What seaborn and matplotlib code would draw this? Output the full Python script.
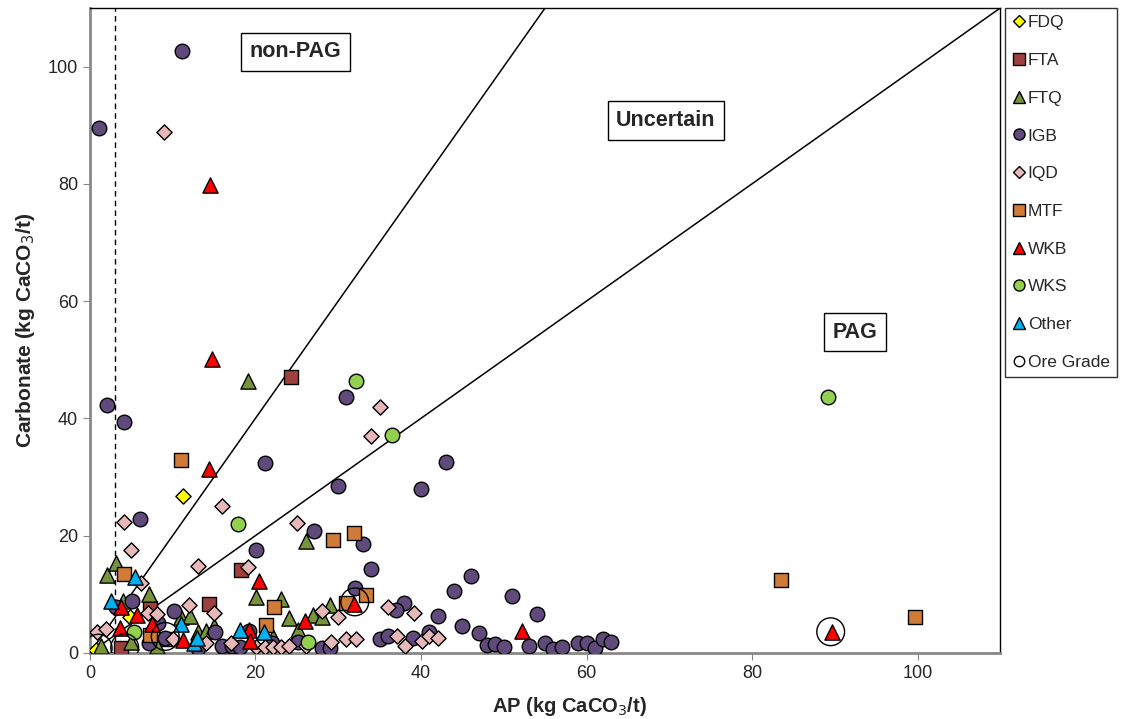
import numpy as np
import pandas as pd
import matplotlib
matplotlib.use('Agg')
import matplotlib.pyplot as plt
from matplotlib.lines import Line2D
import seaborn as sns

# AP (x) and Carbonate (y), kg CaCO3/t
fdq_x = [0.7, 4.8, 11.3]
fdq_y = [0.5, 6.1, 26.8]

fta_x = [3.8, 7.2, 9.2, 14.4, 18.2, 24.3]
fta_y = [0.8, 7.7, 2.3, 8.4, 14.2, 47.0]

ftq_x = [1.3, 2.1, 3.1, 4.0, 5.0, 7.1, 8.1, 11.0, 12.1, 13.0, 14.0, 15.0, 16.1, 19.1,
         20.1, 22.1, 23.1, 24.1, 25.1, 26.1, 27.0, 28.0, 29.0]
ftq_y = [1.1, 13.3, 15.4, 8.8, 1.8, 10.1, 1.1, 6.2, 6.3, 3.5, 3.8, 4.5, 0.3, 46.3,
         9.5, 2.7, 9.1, 6.0, 3.9, 19.1, 6.5, 6.2, 8.2]

igb_x = [1.1, 11.1, 2.1, 4.1, 6.1, 21.1, 30.0, 31.0, 40.0, 43.0, 27.1, 33.0, 20.1, 34.0,
         46.0, 44.0, 51.0, 54.0, 42.0, 38.0, 37.0, 32.0, 45.0, 47.0, 48.0, 49.0, 50.0, 53.0,
         55.0, 56.0, 57.0, 59.0, 60.0, 61.0, 62.0, 63.0, 41.0, 39.0, 35.1, 36.0, 28.0, 29.0,
         25.1, 22.0, 15.1, 16.0, 17.2, 18.1, 13.1, 19.2, 5.1, 3.1, 10.1, 8.2, 7.1, 9.1]
igb_y = [89.5, 102.6, 42.2, 39.3, 22.9, 32.3, 28.4, 43.6, 27.9, 32.5, 20.7, 18.5, 17.6, 14.3,
         13.1, 10.5, 9.7, 6.7, 6.3, 8.5, 7.3, 11.0, 4.6, 3.4, 1.4, 1.5, 1.0, 1.1,
         1.7, 0.7, 1.0, 1.6, 1.6, 0.9, 2.3, 1.8, 3.5, 2.6, 2.3, 2.8, 0.9, 0.9,
         1.9, 1.7, 3.5, 1.2, 1.1, 1.0, 0.8, 3.7, 8.8, 7.9, 7.1, 5.1, 1.7, 2.5]

iqd_x = [0.8, 2.0, 4.1, 5.0, 6.2, 7.0, 8.1, 9.0, 10.0, 12.0, 13.1, 14.0, 15.0, 16.0, 17.0,
         19.1, 20.1, 21.1, 22.1, 23.1, 24.1, 25.0, 26.1, 28.1, 29.1, 30.0, 31.0, 32.1, 34.0,
         35.0, 36.0, 37.1, 38.1, 39.1, 40.1, 41.0, 42.0]
iqd_y = [3.6, 4.0, 22.4, 17.6, 11.9, 6.8, 6.6, 88.9, 2.3, 8.2, 14.8, 1.7, 6.8, 25.0, 1.7,
         14.6, 1.0, 1.0, 1.0, 1.0, 1.2, 22.1, 1.2, 7.1, 1.8, 6.2, 2.3, 2.3, 37.0,
         42.0, 7.8, 2.8, 1.2, 6.8, 2.1, 2.8, 2.5]

mtf_x = [4.1, 7.2, 11.0, 21.3, 22.2, 29.4, 30.9, 31.9, 33.4, 83.5, 99.7]
mtf_y = [13.5, 3.0, 32.9, 4.7, 7.8, 19.3, 8.5, 20.5, 9.8, 12.5, 6.1]

wkb_x = [3.6, 3.8, 5.7, 7.5, 11.2, 14.4, 14.5, 14.8, 19.2, 19.4, 20.4, 26.0, 31.9, 52.2, 89.6]
wkb_y = [4.2, 7.9, 6.5, 5.0, 2.2, 31.3, 79.8, 50.1, 3.9, 2.0, 12.2, 5.4, 8.4, 3.8, 3.6]

wks_x = [5.3, 17.9, 26.3, 32.2, 36.5, 89.2]
wks_y = [3.6, 21.9, 1.9, 46.3, 37.2, 43.6]

other_x = [2.6, 5.4, 11.0, 12.6, 12.9, 18.1, 21.0]
other_y = [8.9, 13.0, 5.0, 1.6, 2.6, 3.9, 3.5]

ore_x = [1.0, 4.2, 9.1, 32.0, 89.5]
ore_y = [0.8, 0.9, 2.8, 8.7, 3.6]

groups = ['FDQ', 'FTA', 'FTQ', 'IGB', 'IQD', 'MTF', 'WKB', 'WKS', 'Other']
xs = [fdq_x, fta_x, ftq_x, igb_x, iqd_x, mtf_x, wkb_x, wks_x, other_x]
ys = [fdq_y, fta_y, ftq_y, igb_y, iqd_y, mtf_y, wkb_y, wks_y, other_y]
colors = ['#FFFF00', '#A0403D', '#77933C', '#604A7B', '#E6B9B8', '#D07C38',
          '#FF0000', '#92D050', '#00B0F0']
markers = ['D', 's', '^', 'o', 'D', 's', '^', 'o', '^']
sizes = [60, 95, 120, 110, 60, 95, 120, 110, 120]

sns.set_style('white')
plt.rcParams['font.family'] = ['Liberation Sans', 'DejaVu Sans']

fig, ax = plt.subplots(figsize=(11.24, 7.19), dpi=100)
fig.subplots_adjust(left=0.080, right=0.890, top=0.989, bottom=0.092)

for g, x, y, c, m, s in zip(groups, xs, ys, colors, markers, sizes):
    df = pd.DataFrame({'AP': x, 'Carbonate': y})
    sns.scatterplot(data=df, x='AP', y='Carbonate', marker=m, color=c, s=s,
                    edgecolor='black', linewidth=1.0, ax=ax, zorder=3, legend=False)

# ore grade samples
ore = pd.DataFrame({'AP': ore_x, 'Carbonate': ore_y})
sns.scatterplot(data=ore, x='AP', y='Carbonate', marker='o', s=400,
                facecolor='none', edgecolor='black', linewidth=1.0, ax=ax, zorder=4, legend=False)

# NPR lines and cut-off
xl = np.array([0, 110])
ax.plot(xl, xl, color='black', lw=1.1, zorder=2)
ax.plot(xl, 2 * xl, color='black', lw=1.1, zorder=2)
ax.axvline(3, color='black', lw=1.0, ls=(0, (4, 3)), zorder=2)

ax.set_xlim(0, 110)
ax.set_ylim(0, 110)
ax.set_xticks([0, 20, 40, 60, 80, 100])
ax.set_yticks([0, 20, 40, 60, 80, 100])
ax.tick_params(axis='both', labelsize=13, direction='out', length=5, color='#888888',
               bottom=True, left=True)
for side in ['left', 'bottom']:
    ax.spines[side].set_color('#888888')
    ax.spines[side].set_linewidth(2)
for side in ['top', 'right']:
    ax.spines[side].set_color('black')
    ax.spines[side].set_linewidth(1)

ax.set_xlabel('AP (kg CaCO$_3$/t)', fontsize=14.5, fontweight='bold', labelpad=6)
ax.set_ylabel('Carbonate (kg CaCO$_3$/t)', fontsize=15, fontweight='bold', labelpad=8)
ax.xaxis.set_label_coords(0.527, -0.065)

box = dict(boxstyle='square,pad=0.4', facecolor='white', edgecolor='black', lw=1)
ax.text(24.8, 102.5, 'non-PAG', fontsize=15.5, fontweight='bold', ha='center', va='center', bbox=box)
ax.text(69.6, 90.8, 'Uncertain', fontsize=15.5, fontweight='bold', ha='center', va='center', bbox=box)
ax.text(92.4, 54.7, 'PAG', fontsize=15.5, fontweight='bold', ha='center', va='center', bbox=box)

handles = [Line2D([], [], ls='none', marker=m, markersize=8 if m != 'D' else 6.5,
                  markerfacecolor=c, markeredgecolor='black', markeredgewidth=1)
           for c, m in zip(colors, markers)]
handles.append(Line2D([], [], ls='none', marker='o', markersize=7.5,
                      markerfacecolor='white', markeredgecolor='black', markeredgewidth=1))
leg = fig.legend(handles, groups + ['Ore Grade'], loc='upper left',
                 bbox_to_anchor=(0.894, 0.989), fontsize=12.5, frameon=True, fancybox=False,
                 edgecolor='black', labelspacing=1.3, handletextpad=0.1, handlelength=0.8,
                 borderpad=0.42, borderaxespad=0)
leg.get_frame().set_linewidth(1)

plt.savefig('out.png', dpi=100)
